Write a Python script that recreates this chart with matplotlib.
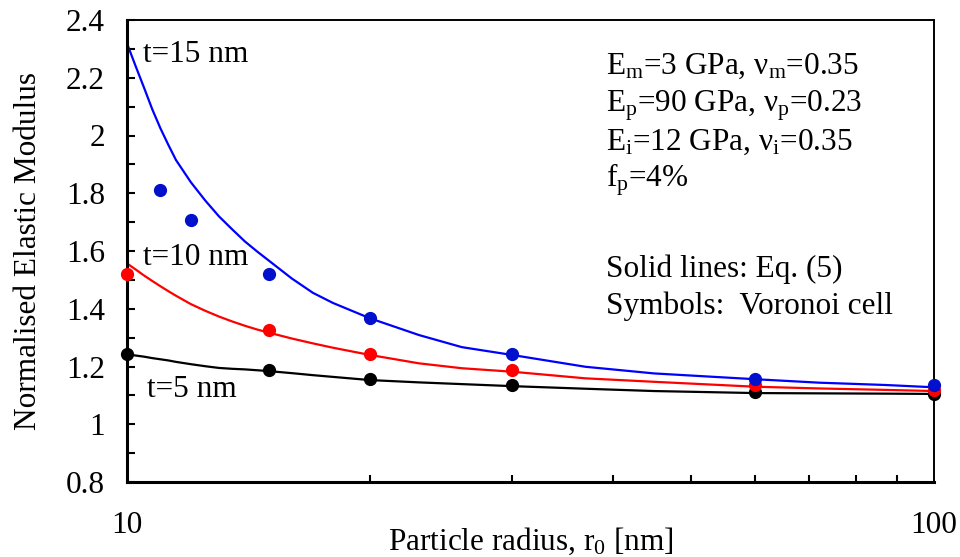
import numpy as np
import matplotlib
matplotlib.use("Agg")
from matplotlib import pyplot as plt
from matplotlib.ticker import MultipleLocator, NullFormatter, FixedLocator

plt.rcParams['font.family'] = ['Liberation Serif', 'DejaVu Serif']
plt.rcParams['mathtext.fontset'] = 'custom'
plt.rcParams['mathtext.rm'] = 'Liberation Serif'
plt.rcParams['mathtext.it'] = 'Liberation Serif:italic'

# Eq. (5) curves
r_line = [10, 10.25, 10.5, 10.75, 11, 11.25, 11.5, 12, 12.5, 13, 13.5, 14, 14.5, 15, 16, 17, 18,
          20, 23, 26, 30, 37, 45, 60, 72, 87, 100]
e_t15_line = [2.319, 2.24, 2.165, 2.09, 2.025, 1.968, 1.915, 1.838, 1.775, 1.72, 1.675, 1.633,
              1.598, 1.566, 1.505, 1.455, 1.42, 1.367, 1.309, 1.267, 1.240, 1.199, 1.176, 1.156,
              1.144, 1.136, 1.128]
e_t10_line = [1.557, 1.536, 1.515, 1.496, 1.478, 1.461, 1.445, 1.416, 1.393, 1.373, 1.356, 1.341,
              1.328, 1.317, 1.297, 1.280, 1.265, 1.240, 1.211, 1.194, 1.182, 1.159, 1.147, 1.130,
              1.124, 1.119, 1.115]
e_t5_line = [1.243, 1.238, 1.234, 1.229, 1.225, 1.221, 1.216, 1.208, 1.201, 1.195, 1.192, 1.190,
             1.187, 1.184, 1.177, 1.170, 1.164, 1.153, 1.145, 1.139, 1.132, 1.123, 1.115, 1.108,
             1.107, 1.106, 1.105]

# Voronoi cell results
r_t15 = [11, 12, 15, 20, 30, 60, 100]
e_t15 = [1.81, 1.707, 1.521, 1.367, 1.243, 1.158, 1.136]
r_t10 = [10, 15, 20, 30, 60, 100]
e_t10 = [1.52, 1.327, 1.244, 1.188, 1.136, 1.119]
r_t5 = [10, 15, 20, 30, 60, 100]
e_t5 = [1.243, 1.187, 1.156, 1.136, 1.113, 1.106]

y_ticks = [0.8, 1.0, 1.2, 1.4, 1.6, 1.8, 2.0, 2.2, 2.4]
y_ticklabels = ['0.8', '1', '1.2', '1.4', '1.6', '1.8', '2', '2.2', '2.4']

fs = 22.5

fig = plt.figure(figsize=(9.6, 5.57), dpi=100)
ax = fig.add_axes([127 / 960, 75 / 557, 807 / 960, 462 / 557])

ax.plot(r_line, e_t5_line, color='black', lw=1.6)
ax.plot(r_line, e_t10_line, color='#ff0000', lw=1.6)
ax.plot(r_line, e_t15_line, color='#0000ff', lw=1.6)
ax.plot(r_t5, e_t5, 'o', color='black', ms=8.5, clip_on=False, zorder=5)
ax.plot(r_t10, e_t10, 'o', color='#ff0000', ms=8.5, clip_on=False, zorder=5)
ax.plot(r_t15, e_t15, 'o', color='#0010cc', ms=8.5, clip_on=False, zorder=6)

ax.set_xscale('log')
ax.set_xlim(10, 100)
ax.set_ylim(0.8, 2.4)
ax.xaxis.set_major_locator(FixedLocator([10, 100]))
ax.set_xticklabels(['10', '100'])
ax.xaxis.set_minor_locator(FixedLocator([20, 30, 40, 50, 60, 70, 80, 90]))
ax.xaxis.set_minor_formatter(NullFormatter())
ax.set_yticks(y_ticks)
ax.set_yticklabels(y_ticklabels)
ax.yaxis.set_minor_locator(MultipleLocator(0.1))

ax.tick_params(axis='both', which='both', direction='in', width=1.5, labelsize=fs)
ax.tick_params(axis='y', which='both', length=6, pad=16)
ax.tick_params(axis='x', which='major', length=0, pad=21)
ax.tick_params(axis='x', which='minor', length=5)

for side in ['left', 'bottom']:
    ax.spines[side].set_linewidth(2.2)
for side in ['top', 'right']:
    ax.spines[side].set_linewidth(1.4)

ax.set_xlabel(r'Particle radius, r$_\mathregular{0}$ [nm]', fontsize=fs)
ax.xaxis.set_label_coords(0.5, -0.095)
ax.set_ylabel('Normalised Elastic Modulus', fontsize=fs)
ax.yaxis.set_label_coords(-0.104, 0.5)

ax.text(0.020, 0.909, 't=15 nm', transform=ax.transAxes, fontsize=fs, va='baseline')
ax.text(0.020, 0.470, 't=10 nm', transform=ax.transAxes, fontsize=fs, va='baseline')
ax.text(0.025, 0.184, 't=5 nm', transform=ax.transAxes, fontsize=fs, va='baseline')

notes = [
    (0.883, r'E$_\mathregular{m}$=3 GPa, ν$_\mathregular{m}$=0.35'),
    (0.801, r'E$_\mathregular{p}$=90 GPa, ν$_\mathregular{p}$=0.23'),
    (0.719, r'E$_\mathregular{i}$=12 GPa, ν$_\mathregular{i}$=0.35'),
    (0.639, r'f$_\mathregular{p}$=4%'),
    (0.444, 'Solid lines: Eq. (5)'),
    (0.364, 'Symbols:  Voronoi cell'),
]
for yy, s in notes:
    ax.text(0.594, yy, s, transform=ax.transAxes, fontsize=fs, va='baseline')

fig.savefig('out.png', dpi=100)
